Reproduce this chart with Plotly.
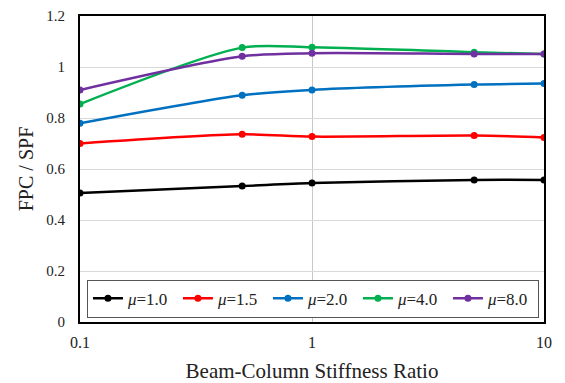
import plotly.graph_objects as go

x_vals = [0.1, 0.5, 1, 5, 10]
mu1_0 = [0.506, 0.533, 0.545, 0.557, 0.557]
mu1_5 = [0.700, 0.736, 0.727, 0.731, 0.724]
mu2_0 = [0.779, 0.889, 0.910, 0.931, 0.935]
mu4_0 = [0.855, 1.076, 1.077, 1.058, 1.051]
mu8_0 = [0.910, 1.042, 1.054, 1.051, 1.051]

series_names = ["<i>μ</i>=1.0", "<i>μ</i>=1.5", "<i>μ</i>=2.0", "<i>μ</i>=4.0", "<i>μ</i>=8.0"]
series_vals = [mu1_0, mu1_5, mu2_0, mu4_0, mu8_0]
colors = ["#000000", "#ff0000", "#0070c0", "#00b050", "#7030a0"]

x_tickvals = [0.1, 1, 10]
x_ticktext = ["0.1", "1", "10"]

fig = go.Figure()
for name, vals, c in zip(series_names, series_vals, colors):
    fig.add_trace(go.Scatter(
        x=x_vals, y=vals, name=name, mode="lines+markers",
        line=dict(color=c, width=2.5, shape="spline", smoothing=0.8),
        marker=dict(color=c, size=7),
    ))

font_family = "Liberation Serif, Times New Roman, serif"
fig.update_layout(
    width=557, height=375,
    margin=dict(l=72, r=21, t=8, b=61, autoexpand=False),
    paper_bgcolor="white", plot_bgcolor="white",
    font=dict(family=font_family, size=15, color="#222"),
    showlegend=True,
    legend=dict(
        orientation="h", x=0.015, y=0.014, xanchor="left", yanchor="bottom",
        bgcolor="white", bordercolor="#555", borderwidth=1,
        font=dict(family=font_family, size=17, color="#222"),
        itemwidth=30, tracegroupgap=0,
        entrywidth=45, entrywidthmode="pixels",
    ),
    xaxis=dict(
        type="log", range=[-1, 1],
        tickvals=x_tickvals, ticktext=x_ticktext,
        showgrid=True, gridcolor="#c8c8c8", gridwidth=1,
        showline=True, linecolor="black", linewidth=2, mirror=True,
        ticks="", zeroline=False, automargin=False,
        ticklabelstandoff=5,
        tickfont=dict(family=font_family, size=16),
        title=dict(text="Beam-Column Stiffness Ratio", font=dict(size=21, family=font_family), standoff=16),
    ),
    yaxis=dict(
        range=[0, 1.2], dtick=0.2,
        showgrid=True, gridcolor="#d9d9d9", gridwidth=1,
        showline=True, linecolor="black", linewidth=2, mirror=True,
        ticks="", zeroline=False, automargin=False,
        ticklabelstandoff=10,
        tickfont=dict(family=font_family, size=15),
        title=dict(text="FPC / SPF", font=dict(size=20, family=font_family), standoff=7),
    ),
)

fig.write_html("out.html")
